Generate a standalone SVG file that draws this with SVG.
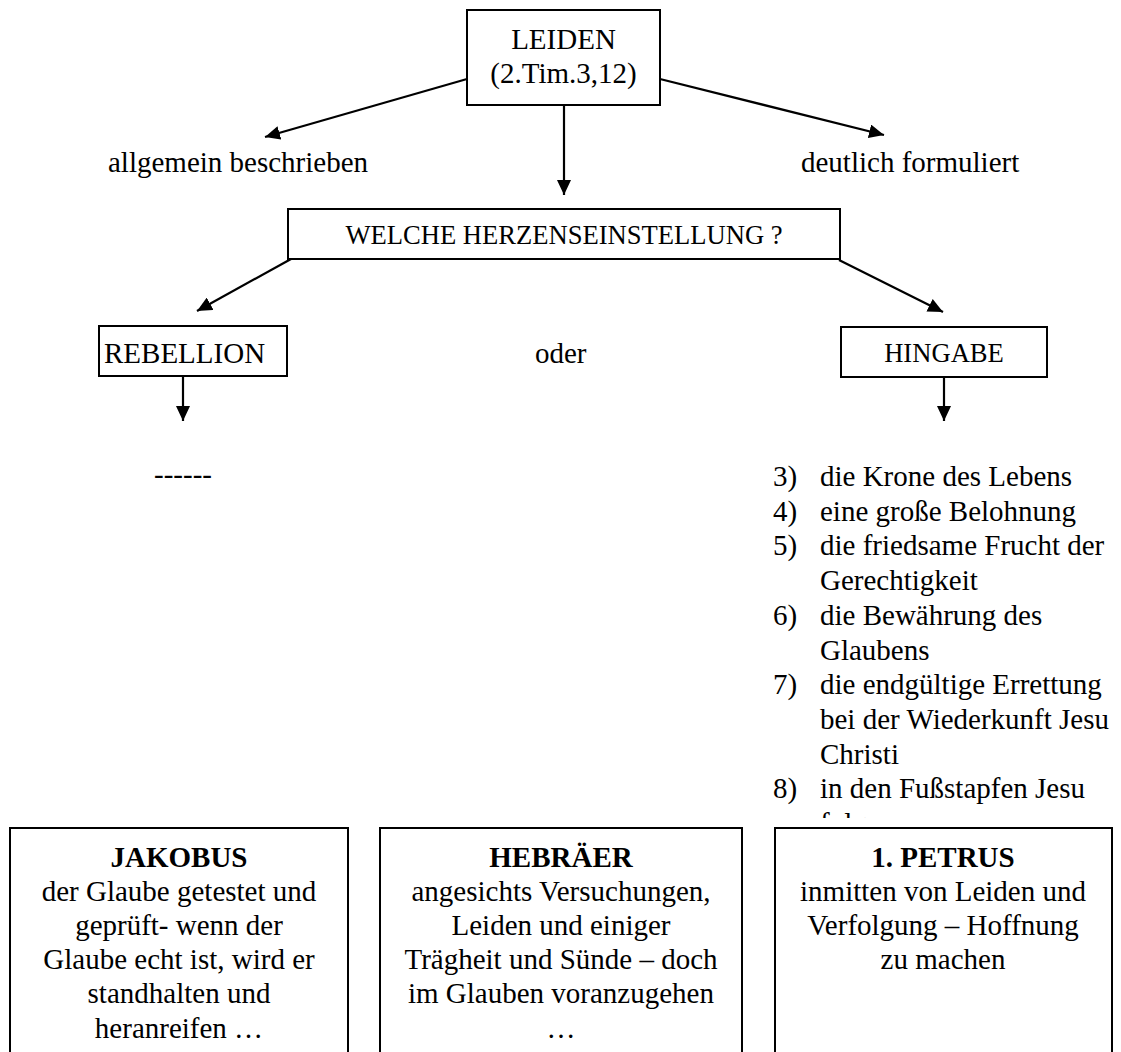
<svg xmlns="http://www.w3.org/2000/svg" width="1121" height="1052" viewBox="0 0 1121 1052">
<style>
  text { font-family: "Liberation Serif", "Times New Roman", serif; fill: #000; }
  .t12 { font-size: 29px; }
  .t11 { font-size: 26.6px; }
  .b { font-weight: bold; }
  .mid { text-anchor: middle; }
  .box { fill: #fff; stroke: #000; stroke-width: 2; }
  .conn { stroke: #000; stroke-width: 2.2; fill: none; marker-end: url(#arrow); }
</style>
<defs>
  <marker id="arrow" markerUnits="userSpaceOnUse" markerWidth="16" markerHeight="14" refX="15" refY="7" orient="auto">
    <path d="M0,0 L15,7 L0,14 Z" fill="#000"/>
  </marker>
  <clipPath id="listclip">
    <rect x="700" y="440" width="421" height="378"/>
  </clipPath>
</defs>
<rect width="1121" height="1052" fill="#fff"/>

<g id="connectors">
  <line class="conn" x1="467" y1="79" x2="265" y2="137"/>
  <line class="conn" x1="660" y1="79" x2="884" y2="135"/>
  <line class="conn" x1="564" y1="105" x2="564" y2="195"/>
  <line class="conn" x1="291" y1="259" x2="197" y2="311"/>
  <line class="conn" x1="839" y1="260" x2="943" y2="312"/>
  <line class="conn" x1="183" y1="376" x2="183" y2="421"/>
  <line class="conn" x1="944" y1="377" x2="944" y2="421"/>
</g>

<g id="leiden">
  <rect class="box" x="467" y="10" width="193" height="95"/>
  <text class="t12 mid" x="563.5" y="49">LEIDEN</text>
  <text class="t12 mid" x="563.5" y="83">(2.Tim.3,12)</text>
</g>

<g id="allgemein">
  <text class="t12" x="108" y="172">allgemein beschrieben</text>
</g>
<g id="deutlich">
  <text class="t12" x="801" y="172">deutlich formuliert</text>
</g>

<g id="welche">
  <rect class="box" x="288" y="209" width="552" height="50"/>
  <text class="t11 mid" x="564" y="244">WELCHE HERZENSEINSTELLUNG ?</text>
</g>

<g id="rebellion">
  <rect class="box" x="99" y="326" width="188" height="50"/>
  <text class="t12" x="104" y="363">REBELLION</text>
</g>

<g id="oder">
  <text class="t12" x="535" y="363">oder</text>
</g>

<g id="hingabe">
  <rect class="box" x="841" y="327" width="206" height="50"/>
  <text class="t11 mid" x="944" y="362">HINGABE</text>
</g>

<g id="rebellion-result">
  <text class="t12" x="154" y="484">------</text>
</g>

<g id="hingabe-list" clip-path="url(#listclip)">
  <text class="t12" x="773" y="486">3)</text>
  <text class="t12" x="820" y="486">die Krone des Lebens</text>
  <text class="t12" x="773" y="521">4)</text>
  <text class="t12" x="820" y="521">eine große Belohnung</text>
  <text class="t12" x="773" y="555">5)</text>
  <text class="t12" x="820" y="555">die friedsame Frucht der</text>
  <text class="t12" x="820" y="590">Gerechtigkeit</text>
  <text class="t12" x="773" y="625">6)</text>
  <text class="t12" x="820" y="625">die Bewährung des</text>
  <text class="t12" x="820" y="660">Glaubens</text>
  <text class="t12" x="773" y="694">7)</text>
  <text class="t12" x="820" y="694">die endgültige Errettung</text>
  <text class="t12" x="820" y="729">bei der Wiederkunft Jesu</text>
  <text class="t12" x="820" y="764">Christi</text>
  <text class="t12" x="773" y="798">8)</text>
  <text class="t12" x="820" y="798">in den Fußstapfen Jesu</text>
  <text class="t12" x="820" y="833">folgen</text>
</g>

<g id="jakobus">
  <rect class="box" x="10" y="828" width="338" height="260"/>
  <text class="t12 mid b" x="179" y="867">JAKOBUS</text>
  <text class="t12 mid" x="179" y="901">der Glaube getestet und</text>
  <text class="t12 mid" x="179" y="935">geprüft- wenn der</text>
  <text class="t12 mid" x="179" y="969">Glaube echt ist, wird er</text>
  <text class="t12 mid" x="179" y="1003">standhalten und</text>
  <text class="t12 mid" x="179" y="1038">heranreifen …</text>
</g>

<g id="hebraeer">
  <rect class="box" x="380" y="828" width="362" height="260"/>
  <text class="t12 mid b" x="561" y="867">HEBRÄER</text>
  <text class="t12 mid" x="561" y="901">angesichts Versuchungen,</text>
  <text class="t12 mid" x="561" y="935">Leiden und einiger</text>
  <text class="t12 mid" x="561" y="969">Trägheit und Sünde – doch</text>
  <text class="t12 mid" x="561" y="1003">im Glauben voranzugehen</text>
  <text class="t12 mid" x="561" y="1038">…</text>
</g>

<g id="petrus">
  <rect class="box" x="775" y="828" width="337" height="260"/>
  <text class="t12 mid b" x="943" y="867">1. PETRUS</text>
  <text class="t12 mid" x="943" y="901">inmitten von Leiden und</text>
  <text class="t12 mid" x="943" y="935">Verfolgung – Hoffnung</text>
  <text class="t12 mid" x="943" y="969">zu machen</text>
</g>
</svg>
